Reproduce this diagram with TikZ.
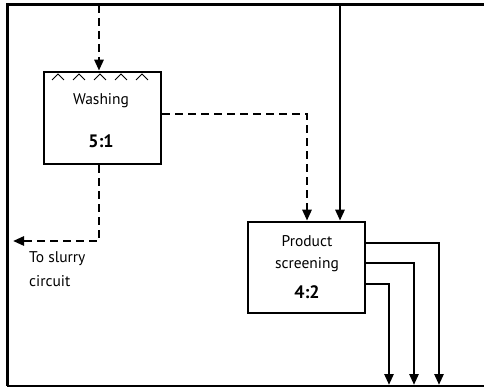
\documentclass[tikz,border=0pt]{standalone}
\usepackage{fontspec}
\setmainfont{PT Sans}
\usetikzlibrary{arrows.meta,calc}
\begin{document}
\begin{tikzpicture}[x=1pt,y=-1pt,
  unitbox/.style={draw,line width=2.6pt,minimum width=117pt,minimum height=92pt,inner sep=0pt},
  flow/.style={line width=2.6pt,-{Triangle[length=11pt,width=9pt]}},
  dflow/.style={flow,dash pattern=on 8pt off 5pt},
  lbl/.style={font=\fontsize{15.5}{24}\selectfont,inner sep=0pt},
  num/.style={font=\fontsize{18}{20}\selectfont\bfseries,inner sep=0pt}]
\useasboundingbox (0,0) rectangle (484,387);
% frame
\draw[line width=3pt] (484,5) -- (7,5) -- (7,386);
\draw[line width=1.5pt] (7,386) -- (484,386);

% units
\node[unitbox] (wash) at (102.5,118) {};
\node[unitbox,minimum height=91pt] (prod) at (306.5,267.5) {};

% spray marks on the washing unit
\foreach \c in {58,79,100,121,142}
  \draw[line width=0.9pt] (\c-6,80) -- (\c,74) -- (\c+6,80);

\node[lbl] (washlbl) at (101,101) {Washing};
\node[num] (washnum) at (101,141) {5:1};
\node[lbl] (prodlbl1) at (307,241) {Product};
\node[lbl] (prodlbl2) at (307,265) {screening};
\node[num] (prodnum) at (307,292) {4:2};

% feeds
\coordinate (washin) at (99,5);
\coordinate (prodin) at (340,5);
\draw[dflow] (washin) -- (wash.north -| washin);
\draw[flow] (prodin) -- (prod.north -| prodin);
\draw[dflow] (wash.east |- 0,114) -| (prod.north -| 307,0);

% slurry return
\coordinate (slurry) at (13,241);
\draw[dflow] (wash.south -| 99,0) |- (slurry);
\node[lbl,anchor=north west,align=left] (slurrylbl) at (29,251) {To slurry\\circuit};

% screen products
\coordinate (out1) at (439,385);
\coordinate (out2) at (414,385);
\coordinate (out3) at (389,385);
\draw[flow] (prod.east |- 0,243) -| (out1);
\draw[flow] (prod.east |- 0,263) -| (out2);
\draw[flow] (prod.east |- 0,284) -| (out3);
\end{tikzpicture}
\end{document}
